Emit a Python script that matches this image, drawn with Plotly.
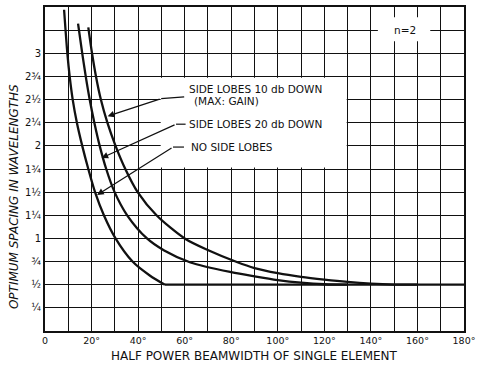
import plotly.graph_objects as go

# ---- data ----
no_lobes_x = [8.2, 9.6, 10.6, 11.9, 13.7, 16.0, 18.6, 21.5, 25.3, 30.3, 37.6, 45.0, 51.5]
no_lobes_y = [3.47, 3.0, 2.75, 2.5, 2.25, 2.0, 1.75, 1.5, 1.25, 1.0, 0.75, 0.6, 0.5]

db20_x = [14.2, 16.0, 17.5, 19.2, 21.2, 23.5, 26.3, 29.9, 35.3, 43.8, 51.2, 62.5, 80.0, 90.0, 100.0, 110.0, 120.0, 130.0]
db20_y = [3.32, 3.0, 2.75, 2.5, 2.25, 2.0, 1.75, 1.5, 1.25, 1.0, 0.87, 0.74, 0.635, 0.59, 0.55, 0.522, 0.505, 0.5]

db10_x = [18.6, 20.2, 21.9, 24.0, 26.8, 30.3, 34.5, 39.8, 47.9, 60.0, 70.4, 82.4, 90.0, 100.0, 110.0, 120.0, 130.0, 140.0, 150.0, 160.0]
db10_y = [3.28, 3.0, 2.75, 2.5, 2.25, 2.0, 1.75, 1.5, 1.25, 1.0, 0.87, 0.745, 0.68, 0.625, 0.585, 0.555, 0.53, 0.512, 0.502, 0.5]

floor_x = [51.5, 180.0]
floor_y = [0.5, 0.5]

x_tickvals = [0, 10, 20, 30, 40, 50, 60, 70, 80, 90, 100, 110, 120, 130, 140, 150, 160, 170, 180]
x_ticktext = ["0", "", "20°", "", "40°", "", "60°", "", "80°", "", "100°", "", "120°", "", "140°", "", "160°", "", "180°"]
y_tickvals = [0, 0.25, 0.5, 0.75, 1.0, 1.25, 1.5, 1.75, 2.0, 2.25, 2.5, 2.75, 3.0, 3.25, 3.5]
y_ticktext = ["", "¼", "½", "¾", "1", "1¼", "1½", "1¾", "2", "2¼", "2½", "2¾", "3", "", ""]

FONT = "DejaVu Sans"
INK = "#111111"

fig = go.Figure()
for xs, ys, shape in [(no_lobes_x, no_lobes_y, "spline"),
                      (db20_x, db20_y, "spline"),
                      (db10_x, db10_y, "spline"),
                      (floor_x, floor_y, "linear")]:
    fig.add_trace(go.Scatter(x=xs, y=ys, mode="lines",
                             line=dict(color=INK, width=2.3, shape=shape, smoothing=0.8),
                             showlegend=False, hoverinfo="skip"))

shapes = [
    # white masks over the grid
    dict(type="rect", xref="x", yref="y", x0=49.7, x1=129.6, y0=1.765, y1=2.735,
         fillcolor="white", line=dict(width=0), layer="between"),
    dict(type="rect", xref="x", yref="y", x0=143.0, x1=165.5, y0=3.13, y1=3.39,
         fillcolor="white", line=dict(width=0), layer="between"),
    # short bends of the leader lines
    dict(type="line", xref="x", yref="y", x0=49.9, y0=2.51, x1=59.8, y1=2.53,
         line=dict(color=INK, width=1.2)),
    dict(type="line", xref="x", yref="y", x0=56.3, y0=2.234, x1=60.4, y1=2.234,
         line=dict(color=INK, width=1.2)),
    dict(type="line", xref="x", yref="y", x0=55.0, y0=1.987, x1=59.7, y1=1.987,
         line=dict(color=INK, width=1.2)),
]

annotations = []
for (hx, hy, tx, ty) in [(26.9, 2.32, 49.9, 2.51), (24.3, 1.869, 56.3, 2.234), (22.4, 1.47, 55.0, 1.987)]:
    annotations.append(dict(x=hx, y=hy, ax=tx, ay=ty, xref="x", yref="y", axref="x", ayref="y",
                            text="", showarrow=True, arrowhead=2, arrowsize=1.1, arrowwidth=1.2,
                            arrowcolor=INK))
label_font = dict(family=FONT, size=10.5, color=INK)
for txt, x, y in [("SIDE LOBES 10 db DOWN", 61.0, 2.61), ("(MAX: GAIN)", 63.0, 2.48),
                  ("SIDE LOBES 20 db DOWN", 61.0, 2.234), ("NO SIDE LOBES", 61.8, 1.987)]:
    annotations.append(dict(x=x, y=y, xref="x", yref="y", text=txt, showarrow=False,
                            xanchor="left", yanchor="middle", font=label_font))
annotations.append(dict(x=154.8, y=3.25, xref="x", yref="y", text="n=2", showarrow=False,
                        xanchor="center", yanchor="middle", font=label_font))
annotations.append(dict(x=-0.075, y=0.415, xref="paper", yref="paper",
                        text="OPTIMUM SPACING IN WAVELENGTHS", textangle=-90, showarrow=False,
                        xanchor="center", yanchor="middle",
                        font=dict(family=FONT, size=12, color=INK, style="italic")))
annotations.append(dict(x=0.5, y=-0.077, xref="paper", yref="paper",
                        text="HALF POWER BEAMWIDTH OF SINGLE ELEMENT", showarrow=False,
                        xanchor="center", yanchor="middle",
                        font=dict(family=FONT, size=12, color=INK)))

fig.update_layout(
    width=480, height=367,
    margin=dict(l=45, r=13, t=5, b=36),
    paper_bgcolor="white", plot_bgcolor="white",
    shapes=shapes, annotations=annotations,
    font=dict(family=FONT, size=10, color=INK),
    xaxis=dict(range=[0, 180], tickmode="array", tickvals=x_tickvals, ticktext=x_ticktext,
               showgrid=True, gridcolor=INK, gridwidth=1.3, zeroline=False,
               showline=True, linecolor=INK, linewidth=2, mirror=True, ticks="",
               tickfont=dict(family=FONT, size=9.5, color=INK)),
    yaxis=dict(range=[0, 3.5], tickmode="array", tickvals=y_tickvals, ticktext=y_ticktext,
               showgrid=True, gridcolor=INK, gridwidth=1.3, zeroline=False,
               showline=True, linecolor=INK, linewidth=2, mirror=True, ticks="",
               tickfont=dict(family=FONT, size=10, color=INK)),
)

fig.write_html("out.html", config={"displayModeBar": False},
               post_script="document.body.style.margin='0';document.body.style.padding='0';")
